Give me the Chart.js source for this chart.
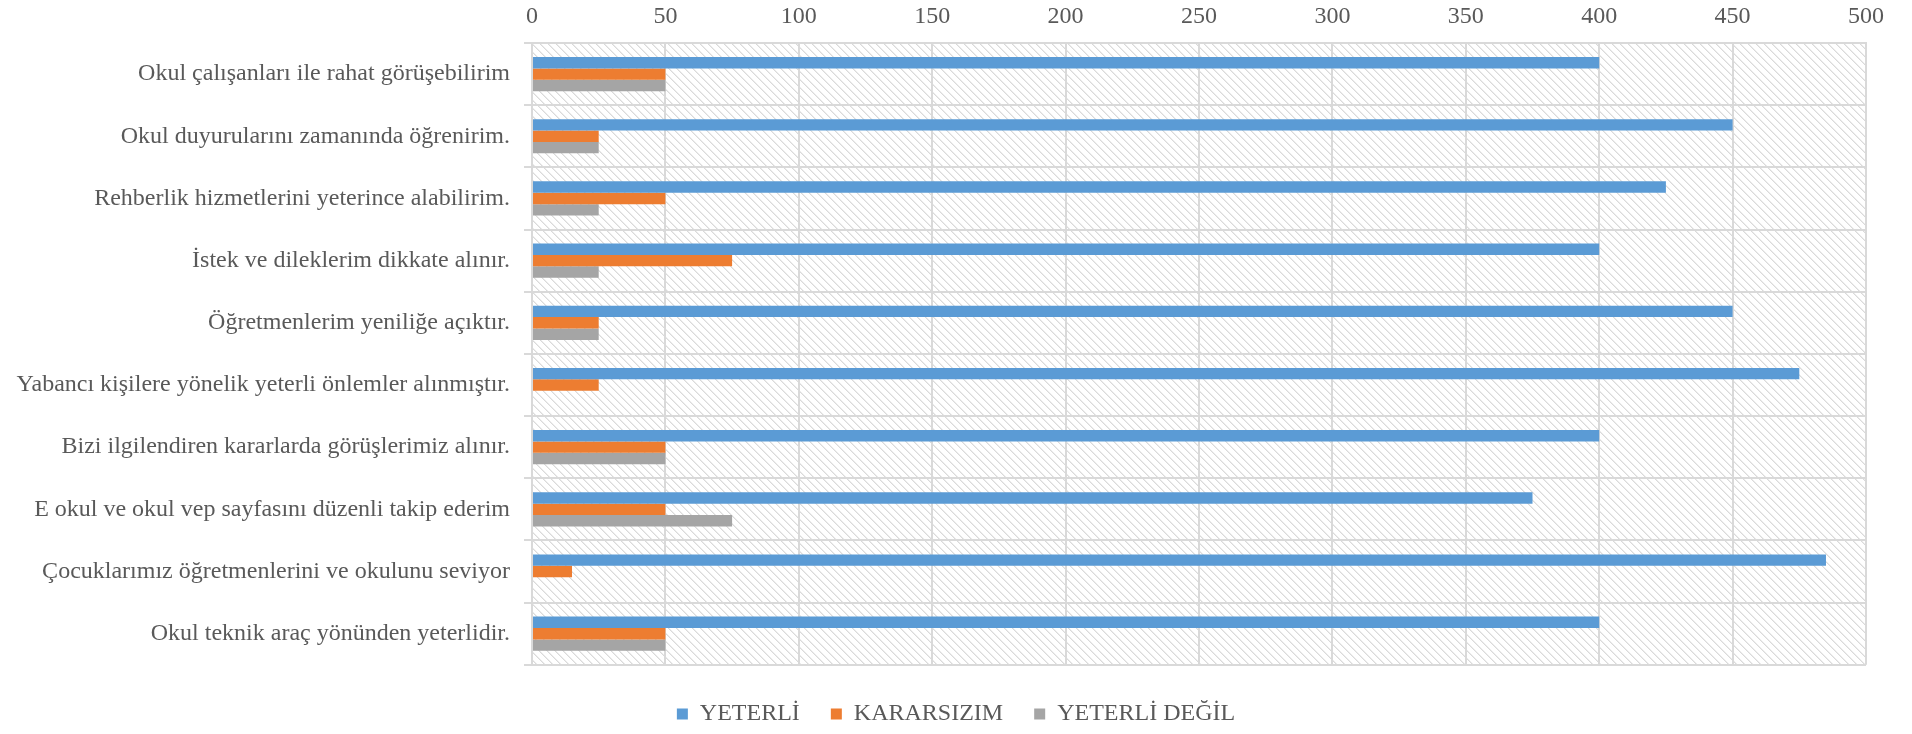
<!DOCTYPE html>
<html lang="tr">
<head>
  <meta charset="UTF-8">
  <title>Veli Görüşleri</title>
  <script src="https://cdn.jsdelivr.net/npm/chart.js"></script>
  <style>
    html, body { margin: 0; padding: 0; background: #fff; }
    #wrap { width: 1912px; height: 734px; }
  </style>
</head>
<body>
<div id="wrap"><canvas id="myChart"></canvas></div>

<script>
  // Categories (top to bottom)
  const categories = [
    'Okul çalışanları ile rahat görüşebilirim',
    'Okul duyurularını zamanında öğrenirim.',
    'Rehberlik hizmetlerini yeterince alabilirim.',
    'İstek ve dileklerim dikkate alınır.',
    'Öğretmenlerim yeniliğe açıktır.',
    'Yabancı kişilere yönelik yeterli önlemler alınmıştır.',
    'Bizi ilgilendiren kararlarda görüşlerimiz alınır.',
    'E okul ve okul vep sayfasını düzenli takip ederim',
    'Çocuklarımız öğretmenlerini ve okulunu seviyor',
    'Okul teknik araç yönünden yeterlidir.'
  ];

  const yeterli     = [400, 450, 425, 400, 450, 475, 400, 375, 485, 400];
  const kararsizim  = [50, 25, 50, 75, 25, 25, 50, 50, 15, 50];
  const yeterliDegil = [50, 25, 25, 25, 25, 0, 50, 75, 0, 50];

  const xTicks = [0, 50, 100, 150, 200, 250, 300, 350, 400, 450, 500];

  const textColor = '#595959';
  const gridColor = '#d9d9d9';
  const font = 'Liberation Serif';

  // light downward diagonal hatch, like the excel pattern fill
  function makeHatch() {
    const c = document.createElement('canvas');
    c.width = 8; c.height = 8;
    const g = c.getContext('2d');
    g.fillStyle = '#ffffff';
    g.fillRect(0, 0, 8, 8);
    for (let i = 0; i < 8; i++) {
      g.fillStyle = '#dadada';
      g.fillRect(i, i, 1, 1);
      g.fillStyle = '#ececec';
      g.fillRect((i + 1) % 8, i, 1, 1);
    }
    return g.createPattern(c, 'repeat');
  }

  const hatchBg = {
    id: 'hatchBg',
    beforeDraw(chart) {
      const { ctx, chartArea: a } = chart;
      ctx.save();
      ctx.fillStyle = makeHatch();
      ctx.fillRect(a.left, a.top, a.right - a.left, a.bottom - a.top);
      ctx.restore();
    }
  };

  const data = {
    labels: categories,
    datasets: [
      { label: 'YETERLİ', data: yeterli, backgroundColor: '#5b9bd5' },
      { label: 'KARARSIZIM', data: kararsizim, backgroundColor: '#ed7d31' },
      { label: 'YETERLİ DEĞİL', data: yeterliDegil, backgroundColor: '#a5a5a5' }
    ]
  };

  const config = {
    type: 'bar',
    data: data,
    plugins: [hatchBg],
    options: {
      indexAxis: 'y',
      responsive: true,
      maintainAspectRatio: false,
      animation: false,
      datasets: {
        bar: { barPercentage: 1.0, categoryPercentage: 0.55 }
      },
      layout: { padding: { left: 0, right: 0, top: 0, bottom: -2 } },
      scales: {
        x: {
          position: 'top',
          min: 0,
          max: 500,
          afterBuildTicks(scale) {
            scale.ticks = xTicks.map(v => ({ value: v }));
          },
          afterFit(scale) {
            scale.height = 43;
            scale.paddingLeft = 0;
            scale.paddingRight = 46;
          },
          grid: { color: gridColor, lineWidth: 2, drawTicks: false },
          border: { display: true, color: gridColor, width: 2 },
          ticks: {
            color: textColor,
            padding: 12,
            font: { family: font, size: 24 }
          }
        },
        y: {
          afterFit(scale) {
            scale.width = 532;
            scale.paddingTop = 0;
            scale.paddingBottom = 0;
          },
          grid: { color: gridColor, lineWidth: 2, tickLength: 8, offset: true },
          border: { display: true, color: gridColor, width: 2 },
          ticks: {
            color: textColor,
            padding: 14,
            font: { family: font, size: 24 }
          }
        }
      },
      plugins: {
        legend: {
          position: 'bottom',
          title: { display: true, text: ' ', font: { size: 1 }, padding: { top: 0, bottom: 5 } },
          labels: {
            color: textColor,
            boxWidth: 11,
            boxHeight: 11,
            padding: 31,
            font: { family: font, size: 24 }
          }
        },
        tooltip: { enabled: false }
      }
    }
  };

  const ctx = document.getElementById('myChart').getContext('2d');
  new Chart(ctx, config);
</script>
</body>
</html>
